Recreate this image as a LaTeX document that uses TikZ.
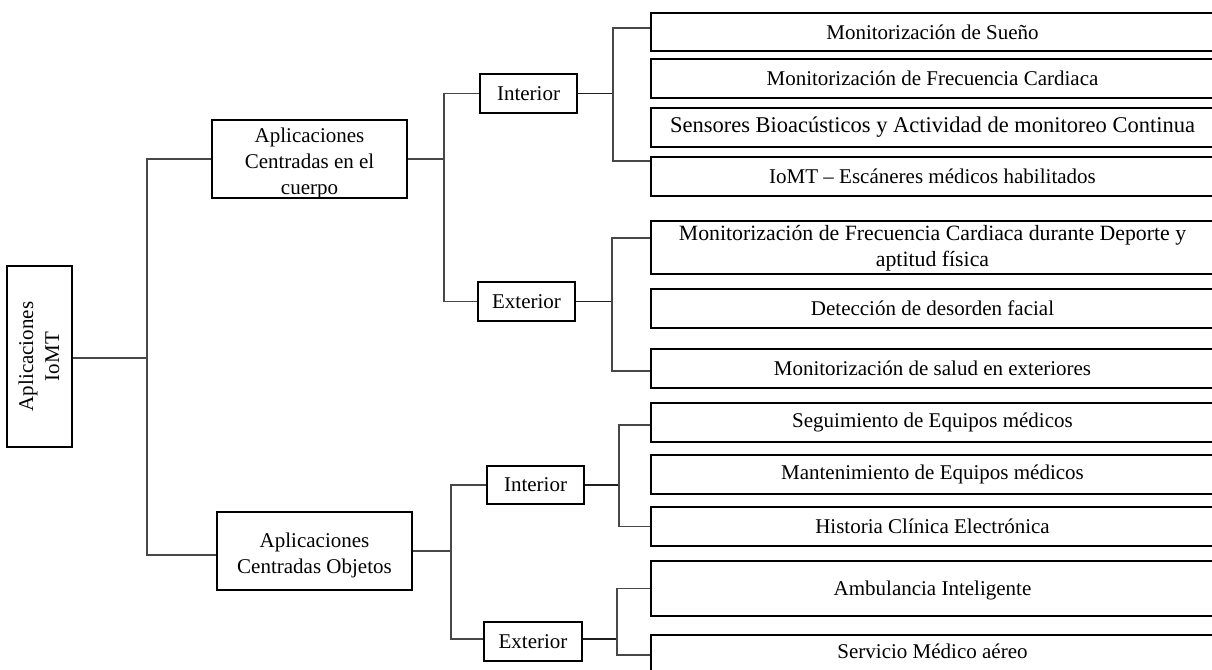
\documentclass[tikz,border=0pt]{standalone}
\usepackage{fontspec}
\setmainfont{Liberation Serif}
% text lowered (negative shift) inside its box while keeping its nominal extent
\newcommand{\shiftlines}[2][0pt]{\raisebox{#1}[\height][\depth]{\begin{tabular}{@{}c@{}}#2\end{tabular}}}
\begin{document}
\begin{tikzpicture}[x=1pt, y=-1pt,
  box/.style={draw=black, line width=1.6pt, inner sep=0pt, align=center,
    font=\fontsize{21}{26}\selectfont},
  leaf/.style={box, minimum width=563pt},
  conn/.style={draw=black!72, line width=1.1pt},
  stub/.style={draw=black!88, line width=1.6pt}]
\path[use as bounding box, clip] (0,0) rectangle (1212,669);

% root
\node[box, minimum width=65pt, minimum height=181pt] (root) at (39.5,356.5)
  {\hspace*{3pt}\rotatebox{90}{\begin{tabular}{@{}c@{}}Aplicaciones\\IoMT\end{tabular}}};

% first level
\node[box, minimum width=195pt, minimum height=78pt] (c1) at (309.5,159)
  {\shiftlines[-4pt]{Aplicaciones\\Centradas en el\\cuerpo}};
\node[box, minimum width=195pt, minimum height=78pt] (c2) at (314.5,551)
  {\shiftlines[-4pt]{Aplicaciones\\Centradas Objetos}};

% second level
\node[box, minimum width=97pt, minimum height=39pt] (i1) at (528.5,93.5) {Interior};
\node[box, minimum width=97pt, minimum height=39pt] (e1) at (526.5,301.5) {Exterior};
\node[box, minimum width=97pt, minimum height=38pt] (i2) at (535.5,485) {Interior};
\node[box, minimum width=98pt, minimum height=39pt] (e2) at (533,641.5) {Exterior};

% leaves
\node[leaf, minimum height=38pt] (l1) at (932.5,32) {Monitorización de Sueño};
\node[leaf, minimum height=39pt] (l2) at (932.5,78.5) {Monitorización de Frecuencia Cardiaca};
\node[leaf, minimum height=39pt, font=\fontsize{22.5}{26}\selectfont] (l3) at (932.5,127.5)
  {Sensores Bioacústicos y Actividad de monitoreo Continua};
\node[leaf, minimum height=39pt] (l4) at (932.5,176.5) {IoMT – Escáneres médicos habilitados};
\node[leaf, minimum height=53pt, font=\fontsize{21.8}{26}\selectfont] (l5) at (932.5,247.5)
  {\shiftlines[-1pt]{Monitorización de Frecuencia Cardiaca durante Deporte y\\aptitud física}};
\node[leaf, minimum height=39pt] (l6) at (932.5,308.5) {Detección de desorden facial};
\node[leaf, minimum height=39pt] (l7) at (932.5,368.5) {Monitorización de salud en exteriores};
\node[leaf, minimum height=39pt] (l8) at (932.5,422.5) {Seguimiento de Equipos médicos};
\node[leaf, minimum height=39pt] (l9) at (932.5,474.5) {Mantenimiento de Equipos médicos};
\node[leaf, minimum height=39pt] (l10) at (932.5,526.5) {Historia Clínica Electrónica};
\node[leaf, minimum height=55pt] (l11) at (932.5,588.5) {\shiftlines[-2pt]{Ambulancia Inteligente}};
\node[leaf, minimum height=40pt] (l12) at (932.5,655) {\shiftlines[2pt]{Servicio Médico aéreo}};

% junction points of the brackets
\coordinate (t)  at (147,358);
\coordinate (ja) at (444,159);
\coordinate (jb) at (613,94);
\coordinate (jc) at (612,303);
\coordinate (jd) at (451,551);
\coordinate (je) at (619,485);
\coordinate (jf) at (617,639);

% root bracket
\draw[conn] (root.east |- t) -- (t);
\draw[conn] (c1.west) -| (t) |- ([yshift=-4pt]c2.west);

% body-centred branch
\draw[conn] (c1.east) -- (ja);
\draw[conn] (i1.west) -| (ja) |- (e1.west);
\draw[stub] (i1.east) -- (i1.east -| jb);
\draw[conn] ([yshift=4pt]l1.west) -| (jb) |- ([yshift=15.5pt]l4.west);
\draw[stub] (e1.east) -- (e1.east -| jc);
\draw[conn] ([yshift=9.5pt]l5.west) -| (jc) |- ([yshift=-2.5pt]l7.west);

% object-centred branch
\draw[conn] (c2.east) -- (jd);
\draw[conn] (i2.west) -| (jd) |- ([yshift=2.5pt]e2.west);
\draw[stub] (i2.east) -- (i2.east -| je);
\draw[conn] ([yshift=-2.5pt]l8.west) -| (je) |- (l10.west);
\draw[stub] (e2.east |- jf) -- (jf);
\draw[conn] (l11.west) -| (jf) |- (l12.west);
\end{tikzpicture}
\end{document}
